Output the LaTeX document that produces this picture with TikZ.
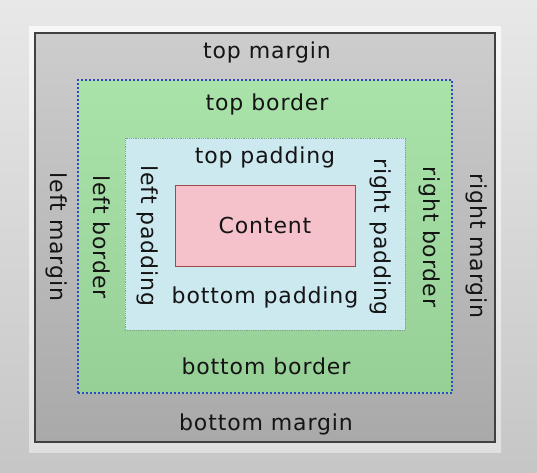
\documentclass[tikz,border=0pt]{standalone}
\usepackage{fontspec}
\setmainfont{DejaVu Sans}
\usetikzlibrary{positioning}
\definecolor{marginTop}{HTML}{CDCDCD}
\definecolor{marginBot}{HTML}{A9A9A9}
\definecolor{borderTop}{HTML}{AAE3AA}
\definecolor{borderBot}{HTML}{97D097}
\definecolor{paddingFill}{HTML}{CDE9F0}
\definecolor{paddingLine}{HTML}{7FA58A}
\definecolor{contentFill}{HTML}{F5C2CC}
\definecolor{contentLine}{HTML}{A04848}
\definecolor{dotBlue}{HTML}{3344C4}

\begin{document}
\begin{tikzpicture}[x=1pt,y=-1pt,
  box/.style={inner sep=0pt,outer sep=0pt},
  lbl/.style={font=\fontsize{22}{26}\selectfont\addfontfeature{LetterSpace=4},text=black!92}]
  \useasboundingbox (0,0) rectangle (537,472);
  \shade[top color=gray!18,bottom color=gray!45] (0,0) rectangle (537,472);
  \shade[top color=gray!6,bottom color=gray!25] (29,26) rectangle (501,452);
  % the four boxes
  \node[box,draw=black!75,line width=1.2pt,top color=marginTop,bottom color=marginBot,
    minimum width=460pt,minimum height=409pt] (margin) at (265,237.5) {};
  \node[box,draw=dotBlue,dash pattern=on 2pt off 2pt,line width=1.3pt,top color=borderTop,bottom color=borderBot,
    minimum width=374pt,minimum height=313pt] (border) at (265,236.5) {};
  \node[box,draw=paddingLine,densely dotted,line width=.8pt,fill=paddingFill,
    minimum width=280pt,minimum height=192pt] (padding) at (265,234) {};
  \node[box,draw=contentLine,line width=.9pt,fill=contentFill,
    minimum width=180pt,minimum height=81pt] (content) at (265,225.5) {};
  % labels
  \node[lbl] (contentText) at (content) {Content};
  \node[lbl] (topMargin) at (267,52) {top margin};
  \node[lbl] (topBorder) at (267,104) {top border};
  \node[lbl] (topPadding) at (265,157) {top padding};
  \node[lbl] (bottomPadding) at (265,297) {bottom padding};
  \node[lbl] (bottomBorder) at (266,366) {bottom border};
  \node[lbl] (bottomMargin) at (266,424) {bottom margin};
  \node[lbl,rotate=-90] (leftMargin) at (57,237) {left margin};
  \node[lbl,rotate=-90] (leftBorder) at (102,237) {left border};
  \node[lbl,rotate=-90] (leftPadding) at (148,236) {left padding};
  \node[lbl,rotate=-90] (rightPadding) at (381,237) {right padding};
  \node[lbl,rotate=-90] (rightBorder) at (430,237) {right border};
  \node[lbl,rotate=-90] (rightMargin) at (477,246) {right margin};
\end{tikzpicture}
\end{document}
